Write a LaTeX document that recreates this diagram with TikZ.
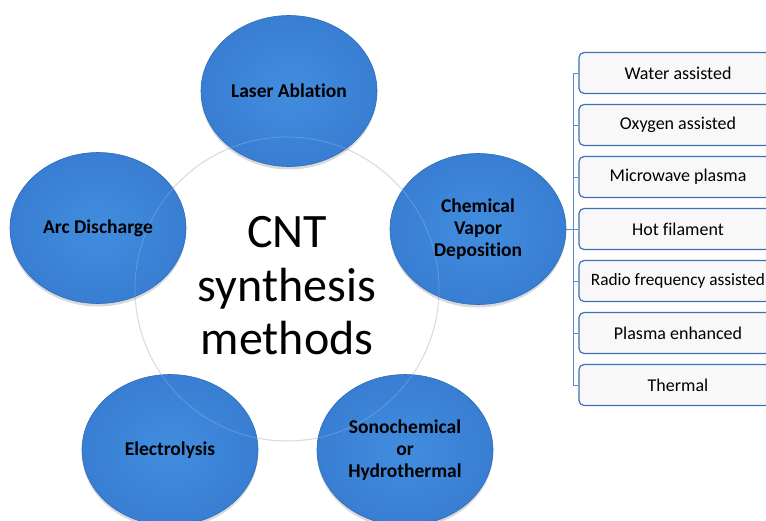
\documentclass[tikz,border=0pt]{standalone}
\usepackage{fontspec}
\setmainfont{Carlito}[Ligatures=NoCommon]
\usetikzlibrary{shapes.geometric,shadows}
\definecolor{blueIn}{HTML}{428DDF}
\definecolor{blueOut}{HTML}{387ED2}
\definecolor{blueEdge}{HTML}{2F6CB8}
\definecolor{boxEdge}{HTML}{3E70B4}
\definecolor{boxFill}{HTML}{F8F8F8}
\definecolor{lineBlue}{HTML}{5A8AD0}
\definecolor{ringCol}{HTML}{C9D6E9}
\begin{document}
\begin{tikzpicture}[x=1pt,y=-1pt,
  method/.style={ellipse, minimum width=176pt, minimum height=151pt, inner sep=0pt,
    shade, inner color=blueIn, outer color=blueOut, draw=blueEdge, line width=0.6pt,
    font=\fontsize{19.5}{22}\selectfont\bfseries, align=center, text=black,
    drop shadow={shadow xshift=0pt, shadow yshift=-3pt, opacity=0.15, fill=black}},
  sub/.style={rectangle, rounded corners=5pt, draw=boxEdge, line width=1.2pt, fill=boxFill,
    minimum width=198pt, minimum height=41pt, inner sep=0pt, font=\fontsize{18}{20}\selectfont},
  link/.style={draw=lineBlue, line width=0.8pt},
  ring/.style={draw=ringCol, line width=1pt}]
\clip (0,0) rectangle (766,520);
\fill[white] (0,0) rectangle (766,520);
% central ring
\draw[ring] (287,289) circle[radius=152];
\node[font=\fontsize{48}{53.5}\selectfont, align=center, inner sep=0pt] (title) at (287,286) {CNT\\synthesis\\methods};
% methods
\node[method] (la) at (289,91) {Laser Ablation};
\node[method] (ad) at (98,228) {Arc Discharge};
\node[method] (cvd) at (478,229) {Chemical\\Vapor\\Deposition};
\node[method] (el) at (170,450) {Electrolysis};
\node[method] (sh) at (405,450) {Sonochemical\\or\\Hydrothermal};
% ring visible through ellipses
\draw[draw=white, opacity=0.2, line width=0.8pt] (287,289) circle[radius=152];
% sub-methods
\node[sub] (b1) at (678,73) {Water assisted};
\node[sub] (b2) at (678,125) {Oxygen assisted};
\node[sub] (b3) at (678,177) {Microwave plasma};
\node[sub] (b4) at (678,229) {Hot filament};
\node[sub, font=\fontsize{17.3}{20}\selectfont] (b5) at (678,281) {Radio frequency assisted};
\node[sub] (b6) at (678,333) {Plasma enhanced};
\node[sub] (b7) at (678,385) {Thermal};
\coordinate (bus) at (574,229);
\draw[link] (cvd.east) -- (bus);
\draw[link] (b1.west) -- ++(-5,0) |- (b7.west);
\foreach \i in {2,...,6} \draw[link] (b\i.west) -- ++(-5,0);
\end{tikzpicture}
\end{document}
